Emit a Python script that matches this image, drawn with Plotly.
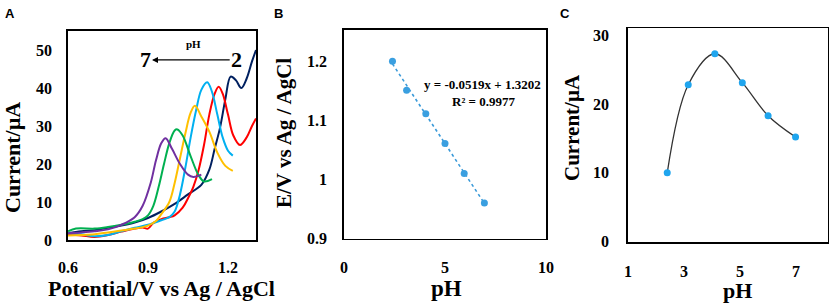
import plotly.graph_objects as go

# ---------------- Panel A: voltammograms at different pH ----------------
ph2_v = [0.60, 0.65, 0.70, 0.75, 0.80, 0.85, 0.90, 0.95, 1.00, 1.05, 1.10, 1.13, 1.15, 1.17, 1.19, 1.21, 1.23, 1.25, 1.27, 1.29, 1.305]
ph2_i = [1.8, 2.3, 2.6, 3.2, 3.8, 4.6, 5.8, 7.5, 9.5, 12.0, 14.5, 18.5, 24.0, 29.5, 37.0, 43.0, 42.0, 40.0, 42.5, 47.0, 50.0]

ph3_v = [0.60, 0.65, 0.70, 0.75, 0.80, 0.85, 0.88, 0.90, 0.92, 0.95, 0.98, 1.00, 1.03, 1.05, 1.07, 1.09, 1.11, 1.13, 1.15, 1.165, 1.18, 1.20, 1.22, 1.245, 1.27, 1.29, 1.305]
ph3_i = [1.5, 1.2, 0.8, 1.3, 2.2, 3.0, 3.3, 3.0, 4.5, 5.5, 6.0, 6.5, 8.5, 11.0, 14.0, 18.5, 25.0, 33.0, 38.5, 40.3, 38.5, 33.0, 27.5, 25.0, 27.0, 30.0, 32.0]

ph4_v = [0.60, 0.65, 0.70, 0.75, 0.80, 0.85, 0.90, 0.95, 0.98, 1.00, 1.02, 1.04, 1.06, 1.08, 1.10, 1.122, 1.14, 1.16, 1.18, 1.20, 1.218]
ph4_i = [1.8, 1.5, 1.0, 1.3, 2.3, 3.2, 4.0, 5.2, 6.0, 7.5, 12.0, 19.0, 27.0, 34.0, 39.5, 41.5, 39.0, 33.0, 27.0, 23.5, 22.2]

ph5_v = [0.60, 0.65, 0.70, 0.75, 0.80, 0.85, 0.90, 0.93, 0.95, 0.98, 1.00, 1.02, 1.04, 1.06, 1.076, 1.10, 1.13, 1.16, 1.19, 1.218]
ph5_i = [1.2, 1.3, 1.5, 2.0, 2.5, 3.0, 3.8, 5.0, 6.8, 10.0, 15.0, 21.5, 28.0, 33.5, 35.3, 32.5, 28.5, 23.0, 19.5, 18.2]

ph6_v = [0.60, 0.63, 0.70, 0.75, 0.80, 0.85, 0.88, 0.90, 0.92, 0.94, 0.96, 0.98, 1.00, 1.01, 1.03, 1.06, 1.09, 1.11, 1.14]
ph6_i = [2.3, 3.0, 3.0, 3.4, 4.0, 4.8, 5.5, 6.5, 9.0, 14.0, 20.0, 25.5, 28.8, 29.1, 27.5, 22.0, 17.0, 15.4, 16.0]

ph7_v = [0.60, 0.65, 0.70, 0.75, 0.80, 0.85, 0.88, 0.91, 0.93, 0.95, 0.966, 0.99, 1.02, 1.05, 1.07, 1.10]
ph7_i = [1.8, 2.0, 2.3, 2.8, 4.0, 6.0, 9.0, 15.0, 21.0, 25.5, 26.8, 24.0, 20.0, 17.2, 16.6, 17.2]

curve_colors = {"pH 2": "#002060", "pH 3": "#FF0000", "pH 4": "#00B0F0",
                "pH 5": "#FFC000", "pH 6": "#00B050", "pH 7": "#7030A0"}

# ---------------- Panel B: peak potential vs pH ----------------
b_ph = [2.4, 3.1, 4.05, 5.0, 5.95, 6.95]
b_e = [1.20, 1.151, 1.111, 1.061, 1.010, 0.960]
trend_slope = -0.0519
trend_intercept = 1.3202

# ---------------- Panel C: peak current vs pH ----------------
c_ph = [2.4, 3.15, 4.1, 5.08, 6.0, 6.98]
c_i = [10.0, 22.8, 27.3, 23.1, 18.3, 15.2]

FONT = "Liberation Serif"
fig = go.Figure()

series_a = [("pH 2", ph2_v, ph2_i), ("pH 3", ph3_v, ph3_i), ("pH 4", ph4_v, ph4_i),
            ("pH 5", ph5_v, ph5_i), ("pH 6", ph6_v, ph6_i), ("pH 7", ph7_v, ph7_i)]
for name, v, i in series_a:
    fig.add_trace(go.Scatter(x=v, y=i, mode="lines", name=name,
                             line=dict(color=curve_colors[name], width=2, shape="spline", smoothing=1.0),
                             xaxis="x", yaxis="y", showlegend=False))

# Panel B
fig.add_trace(go.Scatter(x=[b_ph[0], b_ph[-1]],
                         y=[trend_slope * b_ph[0] + trend_intercept, trend_slope * b_ph[-1] + trend_intercept],
                         mode="lines", line=dict(color="#3A9AD9", width=1.6, dash="dot"),
                         xaxis="x2", yaxis="y2", showlegend=False))
fig.add_trace(go.Scatter(x=b_ph, y=b_e, mode="markers",
                         marker=dict(color="#3A9FE0", size=7),
                         xaxis="x2", yaxis="y2", showlegend=False))

# Panel C
fig.add_trace(go.Scatter(x=c_ph, y=c_i, mode="lines",
                         line=dict(color="#333333", width=1.3, shape="spline", smoothing=1.0),
                         xaxis="x3", yaxis="y3", showlegend=False))
fig.add_trace(go.Scatter(x=c_ph, y=c_i, mode="markers",
                         marker=dict(color="#1FA5EE", size=7),
                         xaxis="x3", yaxis="y3", showlegend=False))

W, H = 829, 305


def PX(p):
    return p / W


def PY(p):
    return 1 - p / H


def xd(a, b):
    return [PX(a), PX(b)]


def yd(top, bottom):
    return [PY(bottom), PY(top)]


tickfont = dict(family=FONT, size=16, color="black", weight="bold")
axis_common = dict(showline=True, mirror=True, linecolor="black", linewidth=1.8,
                   showgrid=False, zeroline=False, ticks="outside",
                   tickcolor="rgba(0,0,0,0)", tickfont=tickfont, automargin=False)

fig.update_layout(
    width=W, height=H,
    margin=dict(l=0, r=0, t=0, b=0),
    paper_bgcolor="white", plot_bgcolor="white",
    font=dict(family=FONT, color="black"),
    hovermode=False,
    xaxis=dict(domain=xd(68, 256), range=[0.6, 1.305], tickvals=[0.6, 0.9, 1.2],
               ticktext=["0.6", "0.9", "1.2"], anchor="y", ticklen=12, **axis_common),
    yaxis=dict(domain=yd(31, 240), range=[0, 55], tickvals=[0, 10, 20, 30, 40, 50],
               anchor="x", ticklen=11, **axis_common),
    xaxis2=dict(domain=xd(344, 546), range=[0, 10], tickvals=[0, 5, 10],
                anchor="y2", ticklen=13, **axis_common),
    yaxis2=dict(domain=yd(30, 238.5), range=[0.9, 1.253], tickvals=[0.9, 1.0, 1.1, 1.2],
                ticktext=["0.9", "1", "1.1", "1.2"], anchor="x2", ticklen=12, **axis_common),
    xaxis3=dict(domain=xd(628, 827.5), range=[1, 8.12], tickvals=[1, 3, 5, 7],
                anchor="y3", ticklen=14, **axis_common),
    yaxis3=dict(domain=yd(28.3, 241.7), range=[0, 31], tickvals=[0, 10, 20, 30],
                anchor="x3", ticklen=14, **axis_common),
)

ann = []
# Panel letters
for letter, px in [("A", 10), ("B", 278), ("C", 565)]:
    ann.append(dict(text="<b>%s</b>" % letter, x=PX(px), y=PY(13), xref="paper", yref="paper",
                    showarrow=False, font=dict(family="Liberation Sans", size=13, color="black"),
                    xanchor="center", yanchor="middle"))

# Axis titles (placed as paper annotations)
ann.append(dict(text="<b>Potential/V vs Ag / AgCl</b>", x=PX(161), y=PY(288), xref="paper", yref="paper",
                showarrow=False, font=dict(family=FONT, size=22, color="black"),
                xanchor="center", yanchor="middle"))
ann.append(dict(text="<b>Current/µA</b>", x=PX(12), y=PY(158), xref="paper", yref="paper",
                showarrow=False, font=dict(family=FONT, size=22, color="black"), textangle=-90,
                xanchor="center", yanchor="middle"))
ann.append(dict(text="<b>E/V vs Ag / AgCl</b>", x=PX(284), y=PY(133), xref="paper", yref="paper",
                showarrow=False, font=dict(family=FONT, size=21, color="black"), textangle=-90,
                xanchor="center", yanchor="middle"))
ann.append(dict(text="<b>pH</b>", x=PX(446.7), y=PY(288), xref="paper", yref="paper",
                showarrow=False, font=dict(family=FONT, size=23, color="black"),
                xanchor="center", yanchor="middle"))
ann.append(dict(text="<b>Current/µA</b>", x=PX(572), y=PY(128), xref="paper", yref="paper",
                showarrow=False, font=dict(family=FONT, size=21, color="black"), textangle=-90,
                xanchor="center", yanchor="middle"))
ann.append(dict(text="<b>pH</b>", x=PX(737), y=PY(290), xref="paper", yref="paper",
                showarrow=False, font=dict(family=FONT, size=22, color="black"),
                xanchor="center", yanchor="middle"))

# Panel A: pH arrow annotation
ann.append(dict(x=0.915, y=47.4, ax=1.212, ay=47.4, xref="x", yref="y", axref="x", ayref="y",
                text="", showarrow=True, arrowhead=2, arrowsize=1, arrowwidth=1.2, arrowcolor="black"))
ann.append(dict(text="<b>7</b>", x=0.889, y=47.4, xref="x", yref="y", showarrow=False,
                font=dict(family=FONT, size=22, color="black"), xanchor="center", yanchor="middle"))
ann.append(dict(text="<b>2</b>", x=1.231, y=47.4, xref="x", yref="y", showarrow=False,
                font=dict(family=FONT, size=22, color="black"), xanchor="center", yanchor="middle"))
ann.append(dict(text="<b>pH</b>", x=1.069, y=51.6, xref="x", yref="y", showarrow=False,
                font=dict(family=FONT, size=11, color="black"), xanchor="center", yanchor="middle"))

# Panel B: trendline equation
ann.append(dict(text="<b>y = -0.0519x + 1.3202</b>", x=PX(482), y=PY(85), xref="paper", yref="paper",
                showarrow=False, font=dict(family=FONT, size=13, color="black"),
                xanchor="center", yanchor="middle"))
ann.append(dict(text="<b>R² = 0.9977</b>", x=PX(483), y=PY(101), xref="paper", yref="paper",
                showarrow=False, font=dict(family=FONT, size=13, color="black"),
                xanchor="center", yanchor="middle"))

fig.update_layout(annotations=ann)
fig.write_html("out.html",
               config={"displayModeBar": False, "staticPlot": True},
               post_script="document.body.style.margin='0px';document.body.style.overflow='hidden';")
